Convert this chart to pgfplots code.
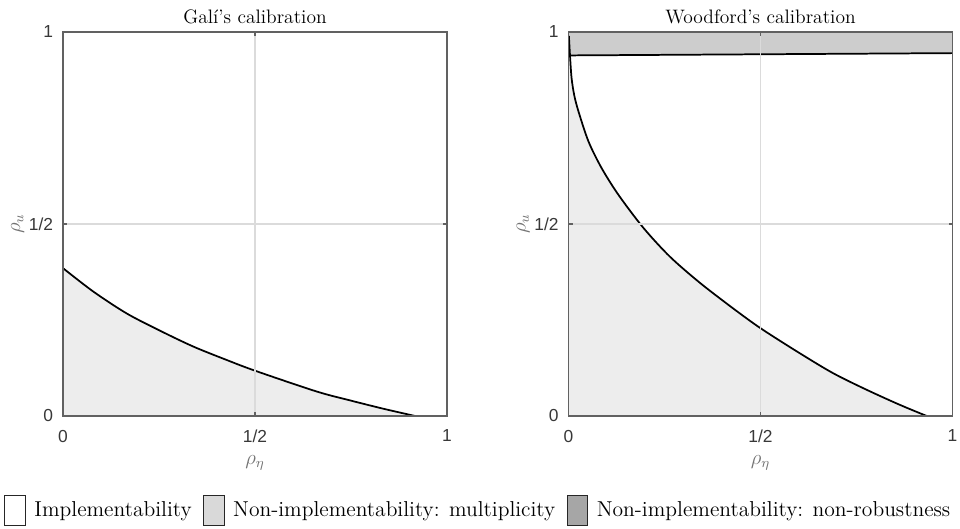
\documentclass[border=0pt]{standalone}
\usepackage{fontspec}
\usepackage{pgfplots}
\pgfplotsset{compat=1.18}
\newfontfamily\arialf{Liberation Sans}

\definecolor{lightfill}{HTML}{EDEDED}
\definecolor{bandfill}{HTML}{CDCDCD}
\definecolor{legmid}{HTML}{D9D9D9}
\definecolor{legdark}{HTML}{A6A6A6}

\pgfplotsset{
  panel/.style={
    scale only axis,
    width=220.8pt, height=220.8pt,
    xmin=0, xmax=1, ymin=0, ymax=1,
    xtick={0,0.5,1}, ytick={0,0.5,1},
    xticklabels={0,1/2,1}, yticklabels={0,1/2,1},
    tick align=inside,
    major tick length=2.3pt,
    grid=major,
    grid style={color=black!14, line width=0.6pt},
    axis line style={black!62, line width=0.7pt},
    tick style={black!62, line width=0.6pt},
    ticklabel style={font=\arialf\fontsize{10}{12}\selectfont, color=black!78},
    xticklabel style={yshift=-4.5pt},
    yticklabel style={xshift=-2.2pt},
    axis on top,
    xlabel={$\rho_\eta$}, ylabel={$\rho_u$},
    label style={font=\fontsize{12}{14}\selectfont, color=black!55},
    xlabel style={at={(axis description cs:0.5,-0.122)}, anchor=center},
    ylabel style={at={(axis description cs:-0.118,0.5)}, anchor=center, rotate=0},
    every axis title shift=0pt,
    title style={at={(axis description cs:0.5,1.023)}, anchor=base, yshift=0pt,
                 font=\fontsize{11.2}{13}\selectfont},
    legend image code/.code={\draw[#1] (0pt,-8.6pt) rectangle (12pt,8.6pt);
                             \path (15pt,0pt);},
  },
}

\begin{document}
\begin{tikzpicture}
\path[use as bounding box] (0,0) rectangle (552pt,303.6pt);

% left panel
\begin{axis}[panel,
  at={(36.225pt,64.4pt)}, anchor=south west,
  title={Galí's calibration},
  legend style={at={(1.0833,-0.2448)}, anchor=center, draw=none, fill=none,
    legend columns=3, font=\fontsize{12.4}{14}\selectfont,
    /tikz/every even column/.append style={column sep=4.5pt},
    legend cell align=left, inner sep=0pt},
]
\addplot[fill=lightfill, draw=none, smooth, forget plot] coordinates {
(0,0.385) (0.079,0.324) (0.166,0.267) (0.253,0.222) (0.339,0.181)
(0.426,0.146) (0.5,0.118) (0.66,0.064) (0.75,0.040) (0.834,0.019) (0.917,0)
} \closedcycle;
\addplot[black, line width=1pt, smooth, forget plot] coordinates {
(0,0.385) (0.079,0.324) (0.166,0.267) (0.253,0.222) (0.339,0.181)
(0.426,0.146) (0.5,0.118) (0.66,0.064) (0.75,0.040) (0.834,0.019) (0.917,0)
};
\addplot[black, line width=1pt, forget plot] coordinates {(0.917,0) (1,0)};

\addlegendimage{draw=black!85, fill=white}
\addlegendentry{Implementability}
\addlegendimage{draw=black!85, fill=legmid}
\addlegendentry{Non-implementability: multiplicity}
\addlegendimage{draw=black!85, fill=legdark}
\addlegendentry{Non-implementability: non-robustness}
\end{axis}

% right panel
\begin{axis}[panel,
  at={(326.89pt,64.4pt)}, anchor=south west,
  title={Woodford's calibration},
]
\addplot[fill=lightfill, draw=none] coordinates {
(0,0) (0,0.99) (0.001,0.99) (0.004,0.937) (0.008,0.880) (0.015,0.835)
(0.026,0.793) (0.052,0.715) (0.086,0.646) (0.130,0.576) (0.195,0.490)
(0.264,0.415) (0.342,0.347) (0.429,0.280) (0.501,0.228) (0.603,0.163)
(0.690,0.111) (0.777,0.068) (0.863,0.029) (0.933,0)
} -- cycle;
\addplot[fill=bandfill, draw=none] coordinates {
(0,0.939) (1,0.945) (1,1) (0,1)
} -- cycle;
\addplot[black, line width=1pt] coordinates {(0,0.939) (1,0.945)};
\addplot[black, line width=1pt, smooth, tension=0.5] coordinates {
(0.001,0.99) (0.004,0.937) (0.008,0.880) (0.015,0.835)
(0.026,0.793) (0.052,0.715) (0.086,0.646) (0.130,0.576) (0.195,0.490)
(0.264,0.415) (0.342,0.347) (0.429,0.280) (0.501,0.228) (0.603,0.163)
(0.690,0.111) (0.777,0.068) (0.863,0.029) (0.933,0)
};
\end{axis}
\end{tikzpicture}
\end{document}
